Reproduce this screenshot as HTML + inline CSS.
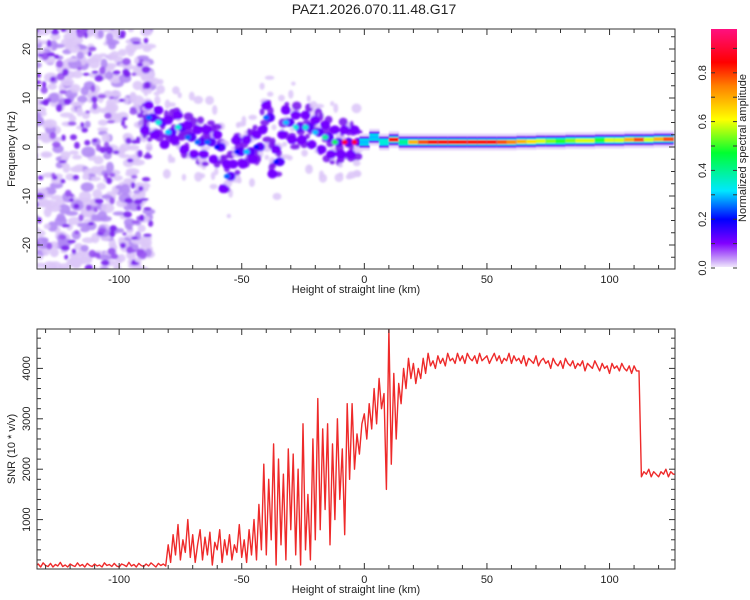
<!DOCTYPE html>
<html><head><meta charset="utf-8">
<style>
body{margin:0;background:#fff;}
svg{display:block;font-family:"Liberation Sans",sans-serif;}
text{fill:#222;}
</style></head>
<body>
<svg id="chart" width="750" height="600" viewBox="0 0 750 600" xmlns="http://www.w3.org/2000/svg">
<defs>
<filter id="soft" x="-20%" y="-20%" width="140%" height="140%"><feGaussianBlur stdDeviation="1"/></filter>
<filter id="soft2" x="-20%" y="-50%" width="140%" height="200%"><feGaussianBlur stdDeviation="0.8"/></filter>
<linearGradient id="cbgrad" x1="0" y1="1" x2="0" y2="0">
<stop offset="0" stop-color="#f0e6fc"/><stop offset="0.03" stop-color="#c8a0f8"/>
<stop offset="0.1" stop-color="#8000ff"/><stop offset="0.2" stop-color="#0000ff"/>
<stop offset="0.32" stop-color="#00e8ff"/><stop offset="0.48" stop-color="#00ff30"/>
<stop offset="0.62" stop-color="#ffff00"/><stop offset="0.76" stop-color="#ff8000"/>
<stop offset="0.86" stop-color="#ff0000"/><stop offset="1" stop-color="#ff1080"/>
</linearGradient>
<clipPath id="clipTop"><rect x="37" y="29" width="638" height="240"/></clipPath>
<clipPath id="clipBot"><rect x="37" y="329" width="638" height="240"/></clipPath>
</defs>
<text x="374" y="14" text-anchor="middle" font-size="14">PAZ1.2026.070.11.48.G17</text>
<g id="specLayer" clip-path="url(#clipTop)" filter="url(#soft)"></g>
<g id="specBand" clip-path="url(#clipTop)" filter="url(#soft2)"></g>
<rect x="37" y="29" width="638" height="240" fill="none" stroke="#333" stroke-width="1"/>
<g id="topAxes"></g>
<text x="356" y="293" text-anchor="middle" font-size="11">Height of straight line (km)</text>
<text transform="translate(15,149) rotate(-90)" text-anchor="middle" font-size="11">Frequency (Hz)</text>
<rect x="711" y="29" width="26" height="238" fill="url(#cbgrad)"/>
<g id="cbAxis"></g>
<text transform="translate(746,148) rotate(-90)" text-anchor="middle" font-size="11">Normalized spectral amplitude</text>
<g id="snrLayer" clip-path="url(#clipBot)"></g>
<rect x="37" y="329" width="638" height="240" fill="none" stroke="#333" stroke-width="1"/>
<g id="botAxes"></g>
<text x="356" y="593" text-anchor="middle" font-size="11">Height of straight line (km)</text>
<text transform="translate(15,449) rotate(-90)" text-anchor="middle" font-size="11">SNR (10 * v/v)</text>
</svg>
<script>
// ---- data ----
const snrStart = -134;
const snrValues = [80,120,60,140,90,70,130,60,110,80,150,70,100,60,120,90,70,140,80,110,60,130,90,70,120,80,100,60,140,90,110,70,130,80,60,120,100,70,150,80,110,60,130,90,70,120,80,140,100,60,130,90,120,80,
500,150,700,300,900,200,600,350,1000,250,700,150,500,800,200,650,300,750,100,550,400,800,150,600,300,700,200,500,350,900,250,600,150,800,300,
1000,200,1300,400,2100,300,1800,600,2500,100,2200,500,1900,200,2400,800,2300,300,2000,100,2900,400,1500,200,2600,
600,3400,800,2800,1200,2900,500,2500,1000,3000,1400,2400,700,3300,1800,3300,2000,2700,2300,2900,
3100,2600,3300,2800,3600,2900,3800,3200,3500,1600,4780,2100,3900,2600,3700,3300,4000,3600,4200,3800,4100,
3700,4000,3800,4200,3900,4300,4050,4150,4000,4250,4100,4200,4050,4300,4150,
4200,4100,4300,4150,4250,4100,4300,4200,4150,4250,4100,4300,4150,4200,4250,4100,4200,4300,4150,4250,
4100,4200,4150,4300,4100,4250,4150,4200,4100,4250,4050,4200,4150,4100,4250,4050,4150,4200,4100,4150,
4000,4200,4100,4050,4150,4000,4200,4100,4050,4150,4000,4100,4050,4150,3950,4100,4050,4000,4150,4050,
3950,4100,4000,4050,3900,4100,4000,4050,3950,4100,4000,3950,4050,3900,4050,3950,
3950,1850,1950,1900,2000,1850,1950,1900,1850,1950,1900,2000,1850,1950,1900,1900];
const ridgeHeights = [-88,-84,-80,-76,-72,-68,-64,-60,-56,-52,-48,-44,-40,-36,-32,-28,-24,-20,-16,-12,-8,-4,0,4,8,12,16,20,24,28,32,36,40,44,48,52,56,60,64,68,72,76,80,84,88,92,96,100,104,108,112,116,120,124];
const ridgeFreq = [6,5,3,4,2,1,1,0,-6,-1,-1,0,6,-3,5,4,4,3,2,1,1,1,1,2,1,1.5,1,1,1,1,1,1,1,1,1,1,1,1,1.1,1.1,1.2,1.2,1.2,1.3,1.3,1.3,1.4,1.4,1.4,1.5,1.5,1.5,1.6,1.6];
const ridgeAmp = [0.2,0.3,0.25,0.3,0.2,0.2,0.2,0.15,0.2,0.15,0.25,0.15,0.2,0.15,0.25,0.3,0.3,0.25,0.35,0.4,0.85,0.85,0.3,0.3,0.35,0.85,0.4,0.7,0.8,0.85,0.85,0.85,0.85,0.85,0.85,0.85,0.8,0.75,0.7,0.65,0.6,0.55,0.5,0.55,0.6,0.6,0.5,0.6,0.6,0.7,0.8,0.6,0.7,0.8];
const xTicks = [-100,-50,0,50,100];
const fTicks = [-20,-10,0,10,20];
const snrTicks = [1000,2000,3000,4000];
const cbTicks = [0.0,0.2,0.4,0.6,0.8];

// ---- scales ----
const X = h => 37 + (h + 133.5) * 2.452;
const YF = f => 147 - f * 4.9;
const YS = s => 570 - s * 0.0504;
const NS = "http://www.w3.org/2000/svg";
function mk(tag, attrs, parent){const e=document.createElementNS(NS,tag);for(const k in attrs)e.setAttribute(k,attrs[k]);parent.appendChild(e);return e;}
function cmap(v){
  const st=[[0,[240,230,252]],[0.03,[200,160,248]],[0.1,[128,0,255]],[0.2,[0,0,255]],[0.32,[0,232,255]],[0.48,[0,255,48]],[0.62,[255,255,0]],[0.76,[255,128,0]],[0.86,[255,0,0]],[1,[255,16,128]]];
  v=Math.max(0,Math.min(1,v));
  for(let i=1;i<st.length;i++){if(v<=st[i][0]){const a=st[i-1],b=st[i],t=(v-a[0])/(b[0]-a[0]);return 'rgb('+a[1].map((c,j)=>Math.round(c+(b[1][j]-c)*t)).join(',')+')';}}
  return 'rgb(255,16,128)';
}

// ---- spectrogram texture (noise background) ----
const spec=document.getElementById('specLayer');
let seed=12345;const rnd=()=>{seed=(seed*1103515245+12345)%2147483648;return seed/2147483648;};
for(let i=0;i<460;i++){const h=-135+rnd()*48,f=-26+rnd()*52;
  const c=mk('ellipse',{cx:X(h),cy:YF(f),rx:3+rnd()*4,ry:2+rnd()*3.5,fill:rnd()<0.7?'#dcc6f8':'#b088f4',opacity:0.9},spec);
  
  }
for(let i=0;i<170;i++){const h=-135+rnd()*48,f=-26+rnd()*52;
  const c=mk('ellipse',{cx:X(h),cy:YF(f),rx:2+rnd()*2.5,ry:1.5+rnd()*2.5,fill:rnd()<0.6?'#7a20f0':'#9650f2',opacity:0.9},spec);
  
  }
// scatter around ridge in the transition region
for(let i=0;i<22;i++){
  for(let k=0;k<12;k++){const h=ridgeHeights[i]-2+rnd()*4,f=ridgeFreq[i]+(rnd()-0.5)*(k<6?18:9);
    const c=mk('ellipse',{cx:X(h),cy:YF(f),rx:2+rnd()*3,ry:2+rnd()*3,fill:k<6?'#ddc8f8':'#7a18ee',opacity:0.9},spec);
    
    }
}
// ridge blobs (negative heights)
ridgeHeights.forEach((h,i)=>{
  if(h>=0)return;
  const f=ridgeFreq[i],a=ridgeAmp[i];
  [[-2.5,0.11],[2.5,0.11],[0,0.13]].forEach(([df,v],j)=>{
    const c=mk('ellipse',{cx:X(h+(j-1)*1.5),cy:YF(f+df),rx:5,ry:4.5,fill:cmap(v)},spec);
    
    
  });
  const c2=mk('ellipse',{cx:X(h),cy:YF(f),rx:3,ry:2.5,fill:cmap(a+0.05)},spec);
  
  
});
// continuous band (positive heights)
const band=document.getElementById('specBand');
ridgeHeights.forEach((h,i)=>{
  if(h<0)return;
  const f=ridgeFreq[i],a=ridgeAmp[i],x0=X(h-2),w=X(h+2)-x0+0.5,y=YF(f);
  [[17,'#e8dafb'],[12,'#9a50f4'],[9,'#1a20ff'],[6.5,cmap(0.34)],[4,cmap(a)]].forEach(([t,col])=>{
    const r=mk('rect',{x:x0,y:y-t/2,width:w,height:t,fill:col},band);
    
    
  });
});

// ---- axes ----
function axesX(g,top,bot,labelY){
  for(let h=-130;h<=120;h+=10){const x=X(h),maj=h%50===0;
    mk('line',{x1:x,y1:bot,x2:x,y2:bot-(maj?6:4),stroke:'#333'},g);
    mk('line',{x1:x,y1:top,x2:x,y2:top+(maj?6:4),stroke:'#333'},g);}
  xTicks.forEach(h=>{const t=mk('text',{x:X(h),y:labelY,'text-anchor':'middle','font-size':11},g);t.textContent=h;
    
    });
}
const ta=document.getElementById('topAxes');
axesX(ta,29,269,283);
for(let f=-25;f<=25;f+=2.5){const y=YF(f);if(y<29||y>269)continue;const maj=f%10===0;
  mk('line',{x1:37,y1:y,x2:37+(maj?6:4),y2:y,stroke:'#333'},ta);
  mk('line',{x1:675,y1:y,x2:675-(maj?6:4),y2:y,stroke:'#333'},ta);}
fTicks.forEach(f=>{const t=mk('text',{transform:`translate(30,${YF(f)}) rotate(-90)`,'text-anchor':'middle','font-size':11},ta);t.textContent=f;
  
  });
const ba=document.getElementById('botAxes');
axesX(ba,329,569,583);
for(let s=0;s<=4800;s+=200){const y=YS(s);if(y<329||y>569)continue;const maj=s%1000===0;
  mk('line',{x1:37,y1:y,x2:37+(maj?6:4),y2:y,stroke:'#333'},ba);
  mk('line',{x1:675,y1:y,x2:675-(maj?6:4),y2:y,stroke:'#333'},ba);}
snrTicks.forEach(s=>{const t=mk('text',{transform:`translate(30,${YS(s)}) rotate(-90)`,'text-anchor':'middle','font-size':11},ba);t.textContent=s;
  
  });
// colorbar axis
const cb=document.getElementById('cbAxis');const YC=v=>268-v*244;
for(let v=0;v<=0.95;v+=0.1){mk('line',{x1:737,y1:YC(v),x2:733,y2:YC(v),stroke:'#333'},cb);mk('line',{x1:711,y1:YC(v),x2:715,y2:YC(v),stroke:'#333'},cb);}
cbTicks.forEach(v=>{const t=mk('text',{transform:`translate(706,${YC(v)}) rotate(-90)`,'text-anchor':'middle','font-size':11},cb);t.textContent=v.toFixed(1);
  
  });

// ---- SNR line ----
const sl=document.getElementById('snrLayer');
const pts=snrValues.map((s,i)=>X(snrStart+i).toFixed(1)+','+YS(s).toFixed(1)).join(' ');
const line=mk('polyline',{points:pts,fill:'none',stroke:'#ee2a2a','stroke-width':1.4,'stroke-linejoin':'round'},sl);


</script>
</body></html>
